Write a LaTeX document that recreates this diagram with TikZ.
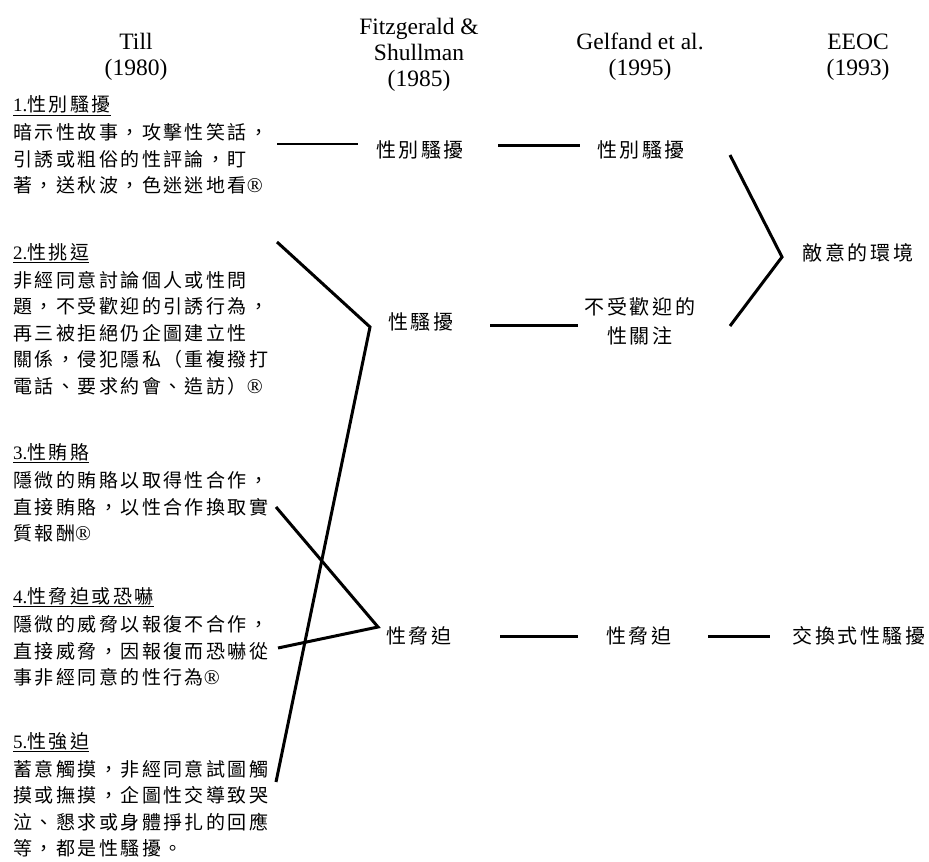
\documentclass[tikz,border=0pt]{standalone}
\usepackage{fontspec}
\setmainfont{Liberation Serif}
\newfontfamily\cjk[LetterSpace=13]{Noto Sans CJK TC}
\newcommand{\hd}[2]{\underline{{\rmfamily #1}#2}}
\newcommand{\reg}{{\rmfamily\fontsize{21}{26.5}\selectfont ®}}

\tikzset{
  head/.style={align=center, inner sep=0pt, font=\fontsize{23.5}{26}\selectfont},
  block/.style={align=left, anchor=west, inner sep=0pt, font=\fontsize{19}{26.5}\selectfont\cjk},
  term/.style={align=center, inner sep=0pt, font=\fontsize{20}{29}\selectfont\cjk},
  link/.style={line width=3pt, line join=miter},
  thinlink/.style={line width=2pt},
}

\begin{document}
\begin{tikzpicture}[x=1pt,y=-1pt]
\useasboundingbox (0,0) rectangle (929,862);
%HEADERS
\node[head] (till) at (136,57) {Till\\(1980)};
\node[head] (fitz) at (419,55) {Fitzgerald \&\\Shullman\\(1985)};
\node[head] (gelf) at (640,57) {Gelfand et al.\\(1995)};
\node[head] (eeoc) at (858,57) {EEOC\\(1993)};
%TILL
\node[block] (b1) at (13,145) {\hd{1.}{性別騷擾}\\[1.5pt]
暗示性故事，攻擊性笑話，\\
引誘或粗俗的性評論，盯\\
著，送秋波，色迷迷地看\reg};
\node[block] (b2) at (13,319) {\hd{2.}{性挑逗}\\[1.5pt]
非經同意討論個人或性問\\
題，不受歡迎的引誘行為，\\
再三被拒絕仍企圖建立性\\
關係，侵犯隱私（重複撥打\\
電話、要求約會、造訪）\reg};
\node[block] (b3) at (13,493) {\hd{3.}{性賄賂}\\[1.5pt]
隱微的賄賂以取得性合作，\\
直接賄賂，以性合作換取實\\
質報酬\reg};
\node[block] (b4) at (13,637) {\hd{4.}{性脅迫或恐嚇}\\[1.5pt]
隱微的威脅以報復不合作，\\
直接威脅，因報復而恐嚇從\\
事非經同意的性行為\reg};
\node[block] (b5) at (13,795) {\hd{5.}{性強迫}\\[1.5pt]
蓄意觸摸，非經同意試圖觸\\
摸或撫摸，企圖性交導致哭\\
泣、懇求或身體掙扎的回應\\
等，都是性騷擾。};
%FITZGERALD
\node[term] (f1) at (420,150) {性別騷擾};
\node[term] (f2) at (421,322) {性騷擾};
\node[term] (f3) at (419,636) {性脅迫};
%GELFAND
\node[term] (g1) at (641,150) {性別騷擾};
\node[term] (g2) at (640,321) {不受歡迎的\\性關注};
\node[term] (g3) at (639,636) {性脅迫};
%EEOC
\node[term] (e1) at (858,253) {敵意的環境};
\node[term] (e2) at (859,636) {交換式性騷擾};
% line ends
\coordinate (b1r) at (277,144); \coordinate (f1l) at (358,144);
\coordinate (f1r) at (498,145); \coordinate (g1l) at (580,145);
\coordinate (b2r) at (277,242); \coordinate (f2l) at (370,327);
\coordinate (b5r) at (276,782);
\coordinate (f2r) at (490,325); \coordinate (g2l) at (578,325);
\coordinate (b3r) at (276,507); \coordinate (f3l) at (378,627);
\coordinate (b4r) at (278,648);
\coordinate (f3r) at (500,636); \coordinate (g3l) at (578,636);
\coordinate (g3r) at (708,636); \coordinate (e2l) at (770,636);
\coordinate (g1r) at (730,155); \coordinate (e1l) at (782,257);
\coordinate (g2r) at (730,326);
% links
\draw[thinlink] (b1r) -- (f1l);
\draw[link] (f1r) -- (g1l);
\draw[link] (b2r) -- (f2l) -- (b5r);
\draw[link] (f2r) -- (g2l);
\draw[link] (b3r) -- (f3l) -- (b4r);
\draw[link] (f3r) -- (g3l);
\draw[link] (g3r) -- (e2l);
\draw[link] (g1r) -- (e1l) -- (g2r);
\end{tikzpicture}
\end{document}
